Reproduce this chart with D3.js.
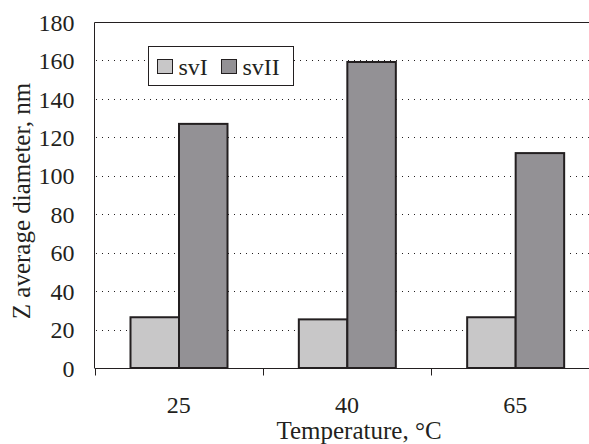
<!DOCTYPE html>
<html>
<head>
<meta charset="utf-8">
<script src="https://cdn.jsdelivr.net/npm/d3@7"></script>
<style>
  body { margin: 0; background: #fff; }
  text { font-family: "Liberation Serif", "Times New Roman", serif; fill: #231f20; }
</style>
</head>
<body>
<div id="chart"></div>
<script>
const temps = ["25", "40", "65"];
const seriesNames = ["svI", "svII"];
const svI = [26.4, 25.3, 26.4];
const svII = [127, 159.2, 111.8];
const yTicks = [0, 20, 40, 60, 80, 100, 120, 140, 160, 180];
const colors = { svI: "#c8c7c8", svII: "#939195" };

const rows = temps.map((t, i) => ({ temp: t, svI: svI[i], svII: svII[i] }));

const W = 589, H = 444;
const FS = 24;
const svg = d3.select("#chart").append("svg")
  .attr("width", W).attr("height", H);

const x = d3.scaleBand().domain(temps).range([94.5, 599.5]).padding(0);
const xs = d3.scaleBand().domain(seriesNames).range([36, 133]).padding(0);
const y = d3.scaleLinear().domain([0, 180]).range([368, 22]);

// gridlines
svg.append("g")
  .selectAll("line")
  .data(yTicks.filter(d => d > 0 && d < 180))
  .enter().append("line")
  .attr("x1", 96).attr("x2", W)
  .attr("y1", d => Math.round(y(d)) + 0.5)
  .attr("y2", d => Math.round(y(d)) + 0.5)
  .attr("stroke", "#231f20")
  .attr("stroke-width", 1)
  .attr("stroke-dasharray", "1,5");

// frame top
svg.append("line")
  .attr("x1", 94.5).attr("x2", W).attr("y1", 22.5).attr("y2", 22.5)
  .attr("stroke", "#231f20");

// bars
const groups = svg.append("g").selectAll("g")
  .data(rows)
  .enter().append("g")
  .attr("transform", d => "translate(" + x(d.temp) + ",0)");

groups.selectAll("rect")
  .data(d => seriesNames.map(s => ({ key: s, value: d[s] })))
  .enter().append("rect")
  .attr("x", d => xs(d.key))
  .attr("width", xs.bandwidth())
  .attr("y", d => y(d.value))
  .attr("height", d => y(0) - y(d.value))
  .attr("fill", d => colors[d.key])
  .attr("stroke", "#231f20")
  .attr("stroke-width", 2);

// y axis
const yAxis = svg.append("g")
  .attr("transform", "translate(94.5,0)")
  .call(d3.axisLeft(y).tickValues(yTicks).tickSize(0).tickPadding(20));
yAxis.select(".domain").attr("stroke", "#231f20").attr("d", "M0,22.5V368");
yAxis.selectAll("text").attr("font-size", FS).attr("fill", "#231f20")
  .attr("dy", "0.34em")
  .style("font-family", "'Liberation Serif', serif");

// x axis
const xAxis = svg.append("g")
  .attr("transform", "translate(0,368.5)")
  .call(d3.axisBottom(x).tickSize(0).tickPadding(27));
xAxis.select(".domain").attr("stroke", "#231f20").attr("d", "M94.5,0H" + W);
xAxis.selectAll("text").attr("font-size", FS).attr("fill", "#231f20")
  .style("font-family", "'Liberation Serif', serif");
xAxis.append("g").selectAll("line")
  .data(temps)
  .enter().append("line")
  .attr("x1", d => Math.round(x(d)) + 0.5)
  .attr("x2", d => Math.round(x(d)) + 0.5)
  .attr("y1", 0).attr("y2", 7)
  .attr("stroke", "#231f20");

// axis titles
svg.append("text")
  .attr("x", 359).attr("y", 439)
  .attr("text-anchor", "middle")
  .attr("font-size", 25)
  .text("Temperature, °C");

svg.append("text")
  .attr("transform", "translate(30,201) rotate(-90)")
  .attr("text-anchor", "middle")
  .attr("font-size", 25)
  .text("Z average diameter, nm");

// legend
const leg = svg.append("g");
leg.append("rect")
  .attr("x", 148.5).attr("y", 46.5).attr("width", 145).attr("height", 39)
  .attr("fill", "#fff").attr("stroke", "#231f20");
const legX = [157.5, 221.5];
seriesNames.forEach((s, i) => {
  leg.append("rect")
    .attr("x", legX[i]).attr("y", 59.5).attr("width", 15).attr("height", 14)
    .attr("fill", colors[s]).attr("stroke", "#231f20");
  leg.append("text")
    .attr("x", legX[i] + 21).attr("y", 75)
    .attr("font-size", FS)
    .text(s);
});
</script>
</body>
</html>
